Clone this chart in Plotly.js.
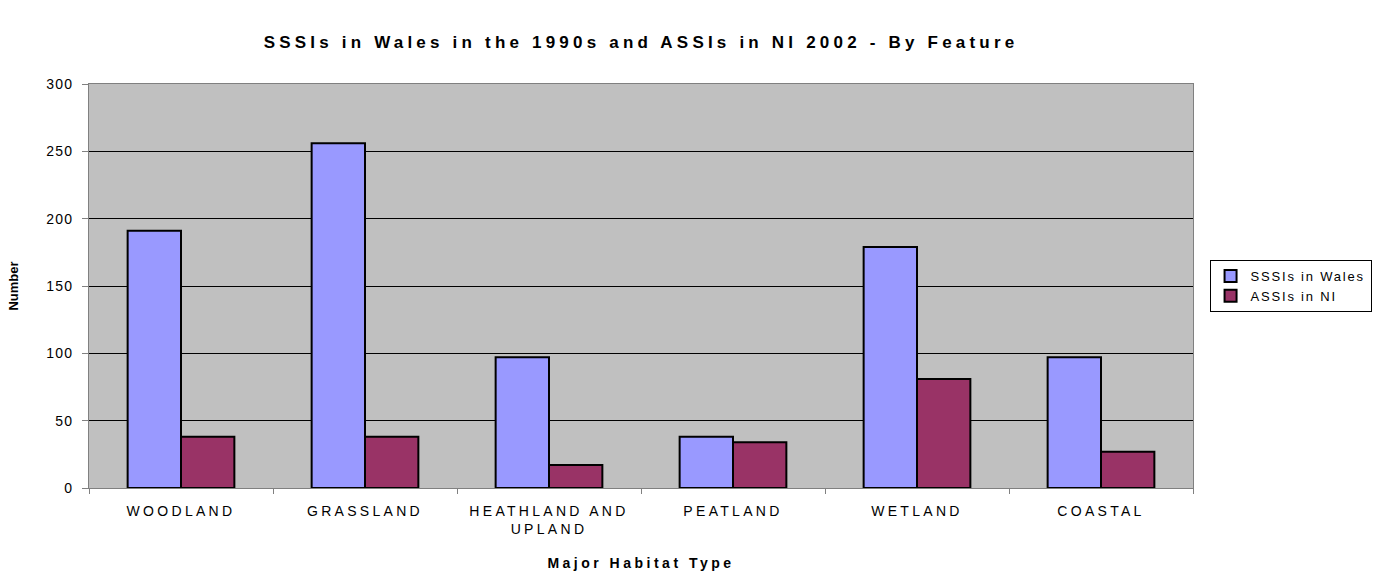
<!DOCTYPE html>
<html>
<head>
<meta charset="utf-8">
<script src="https://cdn.plot.ly/plotly-3.0.1.min.js"></script>
<style>
html,body{margin:0;padding:0;background:#fff;}
#chart{width:1385px;height:573px;}
.xtick text{letter-spacing:3.3px;}
.ytick text{letter-spacing:1.2px;}
.gtitle{letter-spacing:4.2px;}
.xtitle{letter-spacing:3.5px;}
.legendtext{letter-spacing:1.8px;}
</style>
</head>
<body>
<div id="chart"></div>
<script>
const categories = ["WOODLAND", "GRASSLAND", "HEATHLAND AND<br>UPLAND", "PEATLAND", "WETLAND", "COASTAL"];
const sssiWales = [191, 256, 97, 38, 179, 97];
const assiNI = [38, 38, 17, 34, 81, 27];
const seriesNames = ["SSSIs in Wales", "ASSIs in NI"];
const yTicks = [0, 50, 100, 150, 200, 250, 300];

const font = "Liberation Sans, Arial, sans-serif";
const traces = [
  {type: "bar", name: seriesNames[0], x: categories, y: sssiWales,
   marker: {color: "#9999FF", line: {color: "#000000", width: 2}}},
  {type: "bar", name: seriesNames[1], x: categories, y: assiNI,
   marker: {color: "#993366", line: {color: "#000000", width: 2}}}
];
const layout = {
  width: 1385, height: 573,
  margin: {l: 89, r: 192, t: 84, b: 85, autoexpand: false},
  paper_bgcolor: "#ffffff",
  plot_bgcolor: "#C0C0C0",
  barmode: "group",
  bargap: 0.42,
  bargroupgap: 0,
  font: {family: font, color: "#000", size: 13},
  title: {text: "<b>SSSIs in Wales in the 1990s and ASSIs in NI 2002 - By Feature</b>",
          font: {family: font, size: 17, color: "#000"}, x: 0.5, xref: "paper",
          y: 40, yref: "container", yanchor: "middle"},
  xaxis: {
    type: "category", tickson: "boundaries", ticks: "outside", ticklen: 5, tickcolor: "#808080",
    showline: true, linecolor: "#808080", linewidth: 1, mirror: true,
    showgrid: false, tickfont: {size: 14}, ticklabelstandoff: 10,
    title: {text: "<b>Major Habitat Type</b>", font: {size: 14}, standoff: 22}
  },
  yaxis: {
    range: [0, 300], tickvals: yTicks, ticks: "outside", ticklen: 6, tickcolor: "#808080",
    showline: true, linecolor: "#808080", linewidth: 1, mirror: true,
    showgrid: true, gridcolor: "#000000", gridwidth: 1, zeroline: false,
    tickfont: {size: 14}, ticklabelstandoff: 6,
    title: {text: "<b>Number</b>", font: {size: 13}, standoff: 24}
  },
  legend: {
    x: 1.015, xanchor: "left", y: 0.5, yanchor: "middle",
    bordercolor: "#000", borderwidth: 1, bgcolor: "#fff",
    font: {size: 13}, tracegroupgap: 0, itemwidth: 30
  },
  showlegend: true
};
Plotly.newPlot("chart", traces, layout, {displayModeBar: false, staticPlot: true});
</script>
</body>
</html>
